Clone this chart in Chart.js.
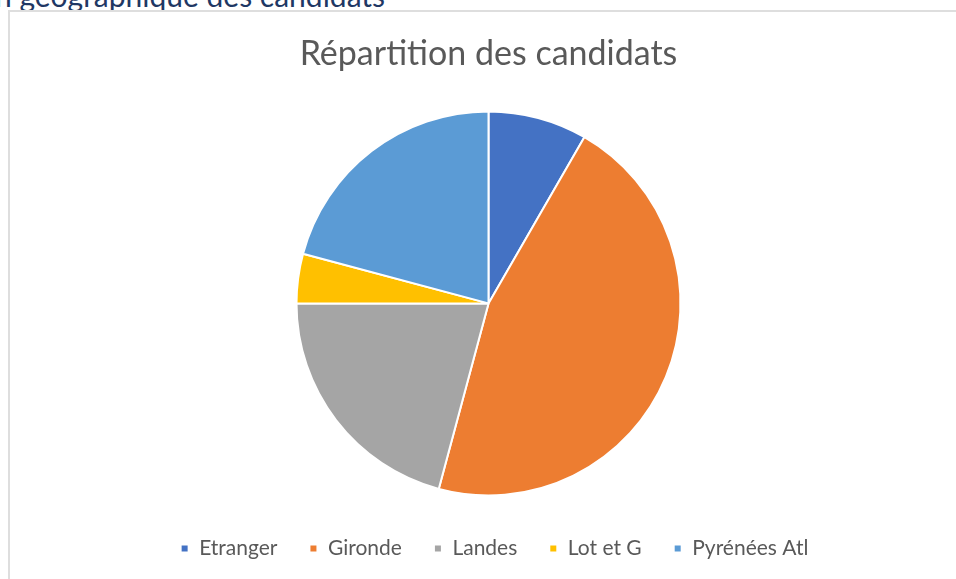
<!DOCTYPE html>
<html>
<head>
<meta charset="utf-8">
<script src="https://cdn.jsdelivr.net/npm/chart.js@4"></script>
<style>
  html, body { margin: 0; padding: 0; background: #fff; overflow: hidden; }
  body { width: 956px; height: 579px; position: relative; }
  #heading {
    position: absolute; left: -5px; top: -20px;
    font-family: Lato, sans-serif; font-size: 30px; line-height: 30px;
    color: #1f3864; white-space: nowrap;
  }
  #frame {
    position: absolute; left: 8px; top: 10px; width: 980px; height: 600px;
    border: 2px solid #dedede; box-sizing: border-box;
  }
  #wrap { position: absolute; left: 0; top: 0; width: 956px; height: 579px; }
</style>
</head>
<body>
<div id="heading">n géographique des candidats</div>
<div id="frame"></div>
<div id="wrap"><canvas id="pieChart"></canvas></div>
<script>
// Données du graphique
const categories = ['Etranger', 'Gironde', 'Landes', 'Lot et G', 'Pyrénées Atl'];
const nbCandidats = [2, 11, 5, 1, 5];
const couleurs = ['#4472C4', '#ED7D31', '#A5A5A5', '#FFC000', '#5B9BD5'];

// décale un peu la légende vers la droite (comme dans Excel)
const decalageLegende = {
    id: 'decalageLegende',
    afterLayout(chart) {
        if (chart.legend) { chart.legend.left += 6; chart.legend.right += 6; }
    }
};

const ctx = document.getElementById('pieChart').getContext('2d');

new Chart(ctx, {
    type: 'pie',
    data: {
        labels: categories,
        datasets: [{
            data: nbCandidats,
            backgroundColor: couleurs,
            borderColor: '#ffffff',
            borderWidth: 2,
            hoverOffset: 0
        }]
    },
    options: {
        responsive: true, maintainAspectRatio: false,
        animation: false,
        radius: 192,
        layout: { padding: { left: 21, right: 0, top: 0, bottom: 10 } },
        plugins: {
            title: {
                display: true,
                text: 'Répartition des candidats',
                color: '#595959',
                font: { family: 'Lato', size: 34, weight: 'normal' },
                padding: { top: 34, bottom: 26 }
            },
            legend: {
                position: 'bottom',
                labels: {
                    color: '#595959',
                    font: { family: 'Lato', size: 21 },
                    boxWidth: 8, boxHeight: 8,
                    padding: 32
                }
            },
            tooltip: { enabled: false }
        }
    },
    plugins: [decalageLegende]
});
</script>
</body>
</html>
